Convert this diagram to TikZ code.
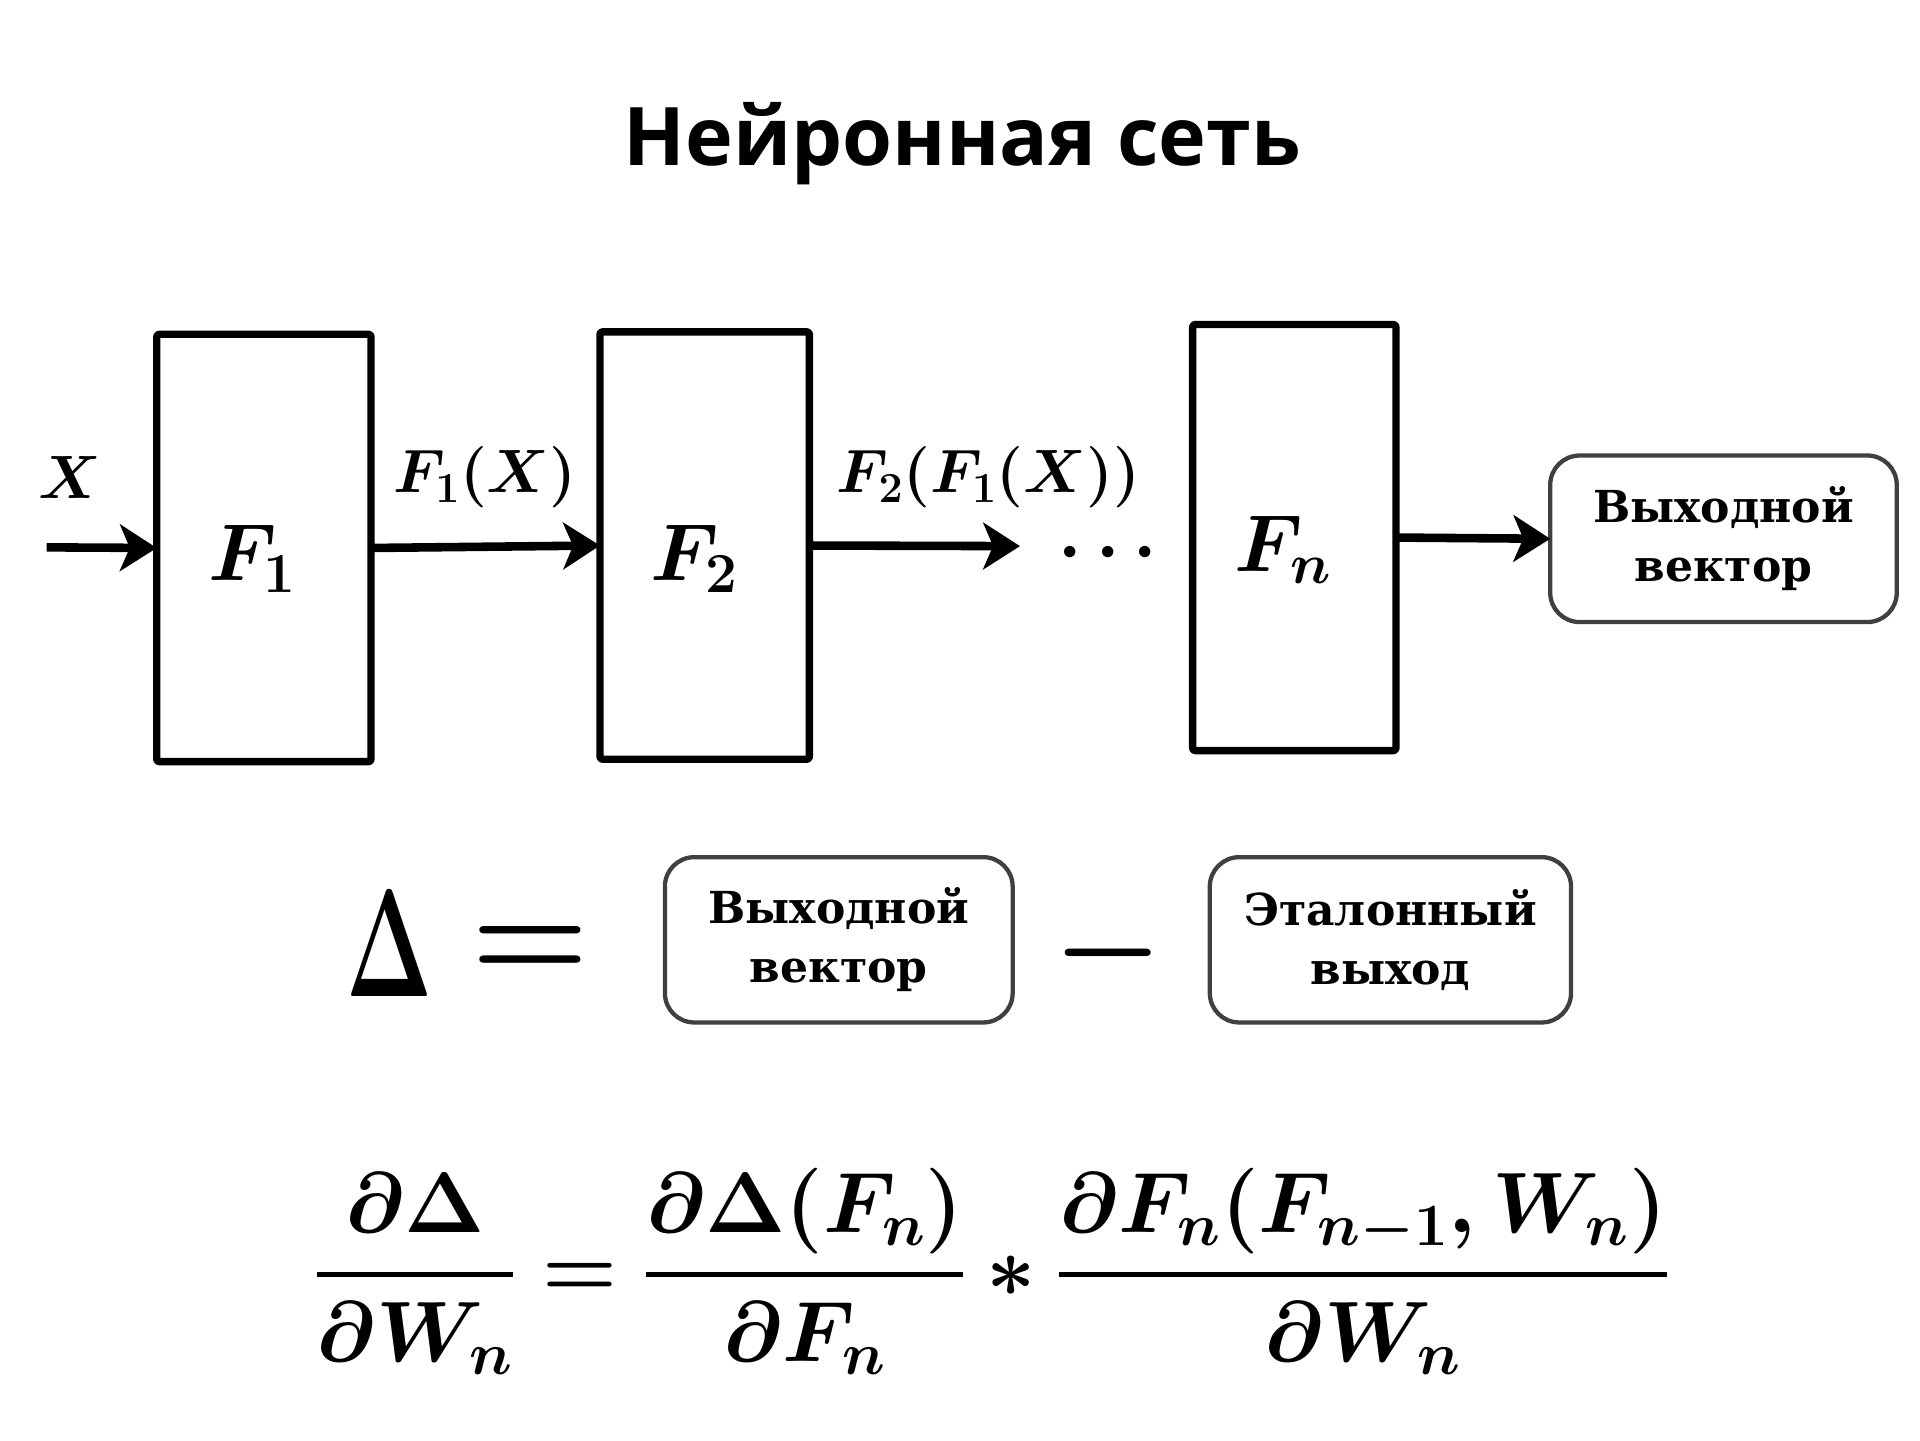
\RequirePackage{fix-cm}
\documentclass[tikz,border=0pt]{standalone}
\usepackage{amsmath}
\usepackage{fontspec}
\newfontfamily\titlefont{Open Sans}
\newfontfamily\boxfont{DejaVu Serif}
\usetikzlibrary{arrows.meta}
\newcommand\ffrac[2]{\genfrac{}{}{4pt}{0}{#1}{#2}}
\begin{document}
\begin{tikzpicture}[x=1pt,y=-1pt,
  fbox/.style={draw, line width=6pt, rounded corners=2pt, inner sep=0pt, outer sep=0pt, line join=round},
  obox/.style={draw=black!75, line width=3.5pt, rounded corners=24pt, inner sep=0pt, outer sep=0pt, align=center,
     font=\boxfont\bfseries\fontsize{36}{48}\selectfont},
  mtxt/.style={inner sep=0pt, font=\fontsize{#1}{#1}\selectfont\boldmath},
  conn/.style={line width=7pt, -{Stealth[length=30pt,width=38pt,inset=8pt]}}]
\fill[white] (0,0) rectangle (1568,1176);
\useasboundingbox (0,0) rectangle (1568,1176);

\node[anchor=base, font=\titlefont\bfseries\fontsize{66}{80}\selectfont] (title) at (786,135) {Нейронная сеть};

% top row
\node[fbox, minimum width=175pt, minimum height=349pt] (F1) at (215.5,447.5) {};
\node[fbox, minimum width=171pt, minimum height=349pt] (F2) at (575.5,445.5) {};
\node[fbox, minimum width=166pt, minimum height=348pt] (Fn) at (1057,439) {};
\node[mtxt=66] (tF1) at (206,456) {$F_1$};
\node[mtxt=66] (tF2) at (567,456) {$F_2$};
\node[mtxt=66] (tFn) at (1048,449) {$F_n$};
\node[obox, minimum width=283pt, minimum height=136pt] (out) at (1407.5,440) {Выходной\\вектор};

\coordinate (xin) at (38,447);
\coordinate (f2end) at (833,446);
\draw[conn] (xin) -- (F1.west);
\draw[conn] (F1.east) -- (F2.west);
\draw[conn] (F2.east) -- (f2end);
\draw[conn] (Fn.east) -- (out.west);

\node[mtxt=50] (lx) at (57,390) {$X$};
\node[mtxt=50] (l1) at (396,390) {$F_1(X)$};
\node[mtxt=50] (l2) at (807,390) {$F_2(F_1(X))$};
\node[mtxt=60] (dots) at (905,466) {$\smash{\cdots}$};

% middle row
\node[mtxt=125] (delta) at (318,771) {\scalebox{0.6}[1]{$\Delta$}};
\node[mtxt=110] (eqs) at (433,778) {$=$};
\node[obox, minimum width=284pt, minimum height=135pt] (vo) at (685,767.5) {Выходной\\вектор};
\node[mtxt=100] (minus) at (905,778) {$-$};
\node[obox, minimum width=295pt, minimum height=135pt] (ref) at (1135.5,767.5) {Эталонный\\выход};

% formula
\node[mtxt=70] (eq) at (810,1038) {$\displaystyle \ffrac{\partial\Delta}{\partial W_n}=\ffrac{\partial\Delta(F_n)}{\partial F_n}*\ffrac{\partial F_n(F_{n-1},W_n)}{\partial W_n}$};
\end{tikzpicture}
\end{document}
